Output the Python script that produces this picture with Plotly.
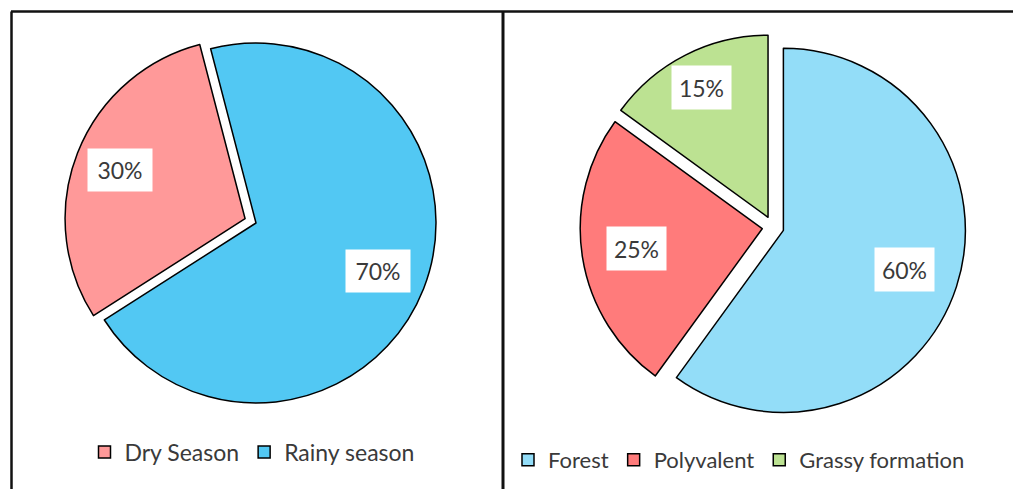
import math
import plotly.graph_objects as go

# ---- data ----
season_labels = ["Dry Season", "Rainy season"]
season_values = [30, 70]
land_labels = ["Forest", "Polyvalent", "Grassy formation"]
land_values = [60, 25, 15]

# ---- style ----
W, H = 1013, 489
season_colors = ["#FF9999", "#52C8F3"]
land_colors = ["#93DDF8", "#FF7B7B", "#BCE292"]
FONT = "Lato"
TXT = "#3a3a3a"

left = dict(cx=256, cy=223, r=180, pull=[0.065, 0.0], rot=237.4,
            label_frac=[0.745, 0.73], box=(62, 40))
right = dict(cx=773, cy=227, r=182, pull=[0.06, 0.06, 0.06], rot=0.0,
             label_frac=[0.70, 0.70, 0.80], box=(57, 41))


def domain(g):
    side = 2 * g["r"] * (1 + max(g["pull"]))
    x0, x1 = (g["cx"] - side / 2) / W, (g["cx"] + side / 2) / W
    y0, y1 = 1 - (g["cy"] + side / 2) / H, 1 - (g["cy"] - side / 2) / H
    return dict(x=[x0, x1], y=[y0, y1])


def label_annots(values, g):
    out = []
    total = sum(values)
    cum = 0
    for v, p, f in zip(values, g["pull"], g["label_frac"]):
        mid = g["rot"] + (cum + v / 2) / total * 360
        cum += v
        t = math.radians(mid)
        d = (p + f) * g["r"]
        px = g["cx"] + d * math.sin(t)
        py = g["cy"] - d * math.cos(t)
        out.append(dict(
            x=px / W, y=1 - py / H, xref="paper", yref="paper",
            xanchor="center", yanchor="middle",
            text=f"{v}%", showarrow=False, bgcolor="white",
            width=g["box"][0], height=g["box"][1],
            font=dict(family=FONT, size=23, color=TXT),
        ))
    return out


fig = go.Figure()
fig.add_trace(go.Pie(
    labels=season_labels, values=season_values, sort=False,
    direction="clockwise", rotation=left["rot"], pull=left["pull"],
    marker=dict(colors=season_colors, line=dict(color="black", width=1.5)),
    textinfo="none", hoverinfo="label+percent",
    domain=domain(left), legend="legend",
))
fig.add_trace(go.Pie(
    labels=land_labels, values=land_values, sort=False,
    direction="clockwise", rotation=right["rot"], pull=right["pull"],
    marker=dict(colors=land_colors, line=dict(color="black", width=1.5)),
    textinfo="none", hoverinfo="label+percent",
    domain=domain(right), legend="legend2",
))

annots = label_annots(season_values, left) + label_annots(land_values, right)

line = dict(color="#111111", width=2.5)
shapes = [
    dict(type="line", xref="paper", yref="paper", x0=11 / W, x1=1, y0=1 - 11.5 / H, y1=1 - 11.5 / H, line=line),
    dict(type="line", xref="paper", yref="paper", x0=11.5 / W, x1=11.5 / W, y0=0, y1=1 - 11.5 / H, line=line),
    dict(type="line", xref="paper", yref="paper", x0=503 / W, x1=503 / W, y0=0, y1=1 - 11.5 / H, line=dict(color="#111111", width=3)),
]

fig.update_layout(
    width=W, height=H,
    margin=dict(l=0, r=0, t=0, b=0),
    paper_bgcolor="white", plot_bgcolor="white",
    font=dict(family=FONT, color=TXT),
    showlegend=True,
    legend=dict(orientation="h", x=252 / W, xanchor="center", y=1 - 452 / H, yanchor="middle",
                font=dict(family=FONT, size=23, color=TXT), bgcolor="rgba(0,0,0,0)"),
    legend2=dict(orientation="h", x=739 / W, xanchor="center", y=1 - 460 / H, yanchor="middle",
                 font=dict(family=FONT, size=22, color=TXT), bgcolor="rgba(0,0,0,0)"),
    annotations=annots,
    shapes=shapes,
)

fig.write_html("out.html")
